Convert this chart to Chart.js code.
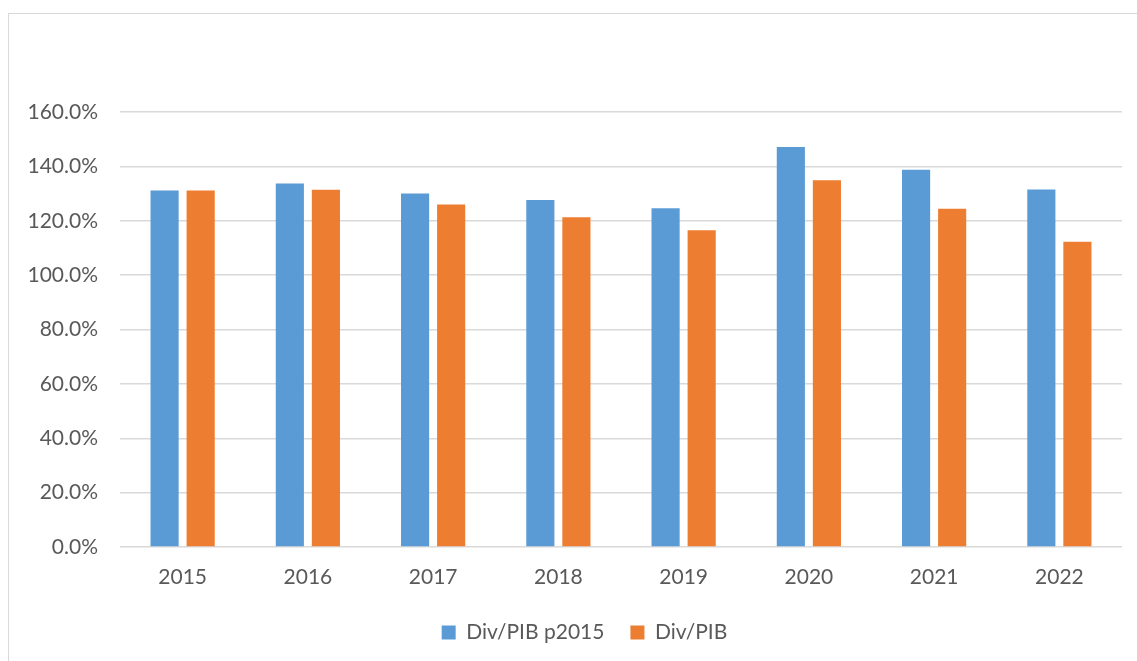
<!DOCTYPE html>
<html>
<head>
<meta charset="utf-8">
<script src="https://cdn.jsdelivr.net/npm/chart.js@4"></script>
<style>
  html, body { margin: 0; padding: 0; background: #fff; overflow: hidden; }
  #frame {
    position: absolute; left: 8px; top: 13px;
    width: 1140px; height: 660px;
    border: 1px solid #d9d9d9;
  }
  #wrap { position: relative; width: 1128px; height: 639px; }
</style>
</head>
<body>
<div id="frame"><div id="wrap"><canvas id="chart"></canvas></div></div>
<script>
  const years = ['2015', '2016', '2017', '2018', '2019', '2020', '2021', '2022'];
  const ratioP2015 = [131.1, 133.7, 130.0, 127.6, 124.6, 147.1, 138.8, 131.5];
  const ratioCurrent = [131.1, 131.4, 126.0, 121.3, 116.5, 134.9, 124.4, 112.3];
  const yTicks = [0, 20, 40, 60, 80, 100, 120, 140, 160];

  const font = { family: 'Lato, "Open Sans", sans-serif', size: 21 };
  const textColor = '#595959';

  // nudge the legend right, it sits off-centre in the original
  const legendShift = {
    id: 'legendShift',
    afterLayout(chart) {
      if (!chart.legend) return;
      chart.legend.left += 19;
      chart.legend.right += 19;
    },
  };

  new Chart(document.getElementById('chart'), {
    type: 'bar',
    data: {
      labels: years,
      datasets: [
        {
          label: 'Div/PIB p2015',
          data: ratioP2015,
          backgroundColor: '#5b9bd5',
          categoryPercentage: 0.576,
          barPercentage: 0.78,
        },
        {
          label: 'Div/PIB',
          data: ratioCurrent,
          backgroundColor: '#ed7d31',
          categoryPercentage: 0.576,
          barPercentage: 0.78,
        },
      ],
    },
    plugins: [legendShift],
    options: {
      responsive: true,
      maintainAspectRatio: false,
      animation: false,
      layout: { padding: { top: 98, right: 15, left: 0, bottom: 0 } },
      plugins: {
        tooltip: { enabled: false },
        legend: {
          position: 'bottom',
          labels: {
            font,
            color: textColor,
            boxWidth: 14,
            boxHeight: 14,
            padding: 26,
          },
        },
      },
      scales: {
        x: {
          grid: { display: false },
          border: { display: false },
          ticks: { font, color: textColor, padding: 10 },
          afterFit: (scale) => { scale.height = 49; },
        },
        y: {
          min: 0,
          max: 160,
          afterBuildTicks: (scale) => { scale.ticks = yTicks.map((v) => ({ value: v })); },
          grid: { color: '#d9d9d9', lineWidth: 1.5, drawTicks: false },
          border: { display: false },
          ticks: {
            font,
            color: textColor,
            padding: 22,
            callback: (v) => v.toFixed(1) + '%',
          },
          afterFit: (scale) => { scale.width = 111; },
        },
      },
    },
  });
</script>
</body>
</html>
